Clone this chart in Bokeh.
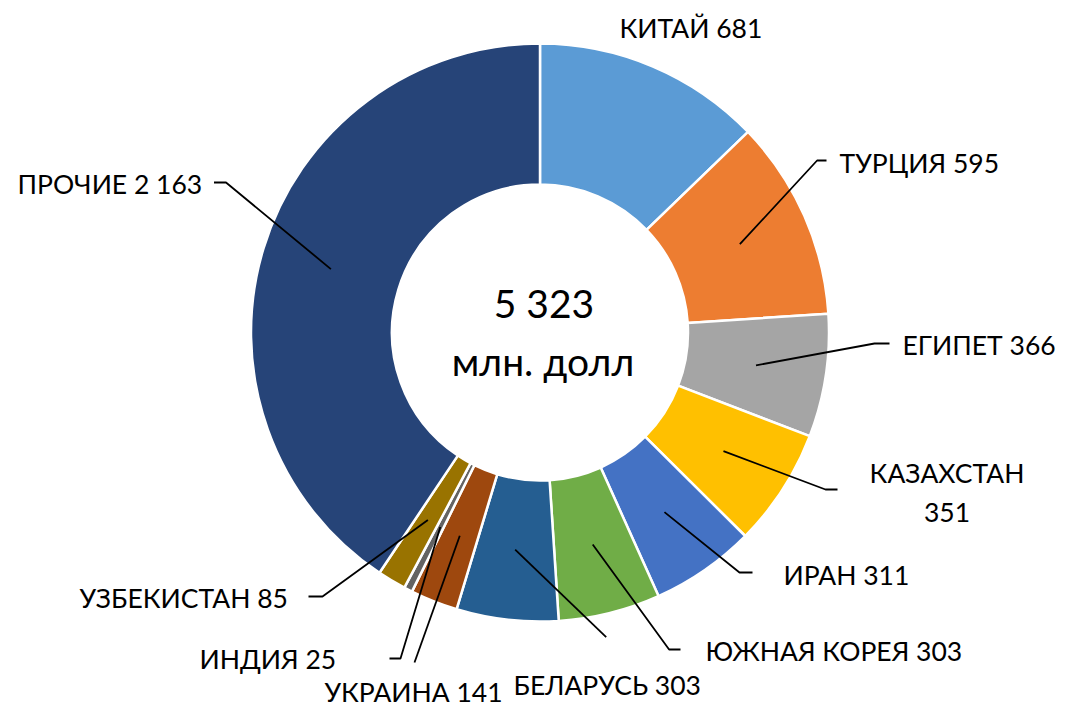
import numpy as np
from bokeh.plotting import figure
from bokeh.models import Range1d, ColumnDataSource
from bokeh.embed import file_html
from bokeh.resources import INLINE
from bokeh.core.properties import value

# ---------------- data ----------------
countries = ["КИТАЙ", "ТУРЦИЯ", "ЕГИПЕТ", "КАЗАХСТАН", "ИРАН", "ЮЖНАЯ КОРЕЯ",
             "БЕЛАРУСЬ", "УКРАИНА", "ИНДИЯ", "УЗБЕКИСТАН", "ПРОЧИЕ"]
values = [681, 595, 366, 351, 311, 303, 303, 141, 25, 85, 2163]
value_texts = ["681", "595", "366", "351", "311", "303", "303", "141", "25", "85", "2 163"]
colors = ["#5B9BD5", "#ED7D31", "#A5A5A5", "#FFC000", "#4472C4", "#70AD47",
          "#255E91", "#9E480E", "#636363", "#997300", "#264478"]
total_text = "5 323"
unit_text = "млн. долл"

# ---------------- layout (reference pixel coordinates) ----------------
W, H = 1060, 709
PAGE_H = 725
CX, CY = 539.5, 332.0
R_OUT, R_IN = 289.0, 148.0
R_MID = (R_OUT + R_IN) / 2


def Y(yref):
    return PAGE_H - yref


# label text anchors: (x, cap-centre y, align)
label_pos = {
    "КИТАЙ": (619, 27.5, "left"),
    "ТУРЦИЯ": (839, 162, "left"),
    "ЕГИПЕТ": (902, 344.5, "left"),
    "КАЗАХСТАН": (946.5, 472, "center"),
    "ИРАН": (783, 574, "left"),
    "ЮЖНАЯ КОРЕЯ": (705, 650, "left"),
    "БЕЛАРУСЬ": (513, 684, "left"),
    "УКРАИНА": (324, 691, "left"),
    "ИНДИЯ": (199, 658, "left"),
    "УЗБЕКИСТАН": (79, 597.5, "left"),
    "ПРОЧИЕ": (17, 183, "left"),
}
# leader line anchor points near labels (after the slice middle point)
leader_pts = {
    "КИТАЙ": None,
    "ТУРЦИЯ": [(816.6, 160), (826, 160)],
    "ЕГИПЕТ": [(874, 343), (889, 343)],
    "КАЗАХСТАН": [(825, 489), (837, 489)],
    "ИРАН": [(739, 572), (752, 572)],
    "ЮЖНАЯ КОРЕЯ": [(668.6, 649), (680, 649)],
    "БЕЛАРУСЬ": [(605.7, 636.7)],
    "УКРАИНА": [(414, 662)],
    "ИНДИЯ": [(400, 658), (389, 658)],
    "УЗБЕКИСТАН": [(322, 596), (308, 596)],
    "ПРОЧИЕ": [(225.5, 182), (213.5, 182)],
}

# ---------------- angles ----------------
vals = np.array(values, dtype=float)
frac = vals / vals.sum()
cum_after = np.cumsum(frac) * 2 * np.pi
cum_before = cum_after - frac * 2 * np.pi
start = np.pi / 2 - cum_before   # clockwise from 12 o'clock
end = np.pi / 2 - cum_after
mid_theta = (cum_before + cum_after) / 2  # clockwise from top

src = ColumnDataSource(dict(start=start, end=end, color=colors,
                            x=[CX] * len(values), y=[Y(CY)] * len(values)))

p = figure(width=W, height=H, output_backend="svg", toolbar_location=None,
           x_range=Range1d(0, W), y_range=Range1d(PAGE_H - H, PAGE_H),
           x_axis_type=None, y_axis_type=None, min_border=0,
           background_fill_color="white", border_fill_color="white")
p.outline_line_color = None
p.grid.visible = False

p.annular_wedge(x="x", y="y", inner_radius=R_IN, outer_radius=R_OUT,
                start_angle="start", end_angle="end", direction="clock",
                fill_color="color", line_color="white", line_width=2.5, source=src)

# leader lines
xs, ys = [], []
for i, c in enumerate(countries):
    pts = leader_pts[c]
    if not pts:
        continue
    mx = CX + R_MID * np.sin(mid_theta[i])
    my = CY - R_MID * np.cos(mid_theta[i])
    xs.append([mx] + [pt[0] for pt in pts])
    ys.append([Y(my)] + [Y(pt[1]) for pt in pts])
p.multi_line(xs=xs, ys=ys, line_color="black", line_width=1.8)

# labels
FONT = value("Lato")
lx = {"left": [], "center": []}
for i, c in enumerate(countries):
    x, yc, al = label_pos[c]
    if c == "КАЗАХСТАН":
        lx["center"].append((x, Y(yc), c))
        lx["center"].append((x, Y(yc + 40), value_texts[i]))
    else:
        lx[al].append((x, Y(yc), c + " " + value_texts[i]))

for al, items in lx.items():
    if not items:
        continue
    p.text(x=[t[0] for t in items], y=[t[1] for t in items], text=[t[2] for t in items],
           text_font=FONT, text_font_size="26.5px", text_align=al,
           text_baseline="middle", text_color="black")

# center texts
p.text(x=[543.5, 542.5], y=[Y(302), Y(360)], text=[total_text, unit_text],
       text_font=FONT, text_font_size="39px", text_align="center",
       text_baseline="middle", text_color="black")

open("out.html", "w").write(file_html(p, INLINE))
